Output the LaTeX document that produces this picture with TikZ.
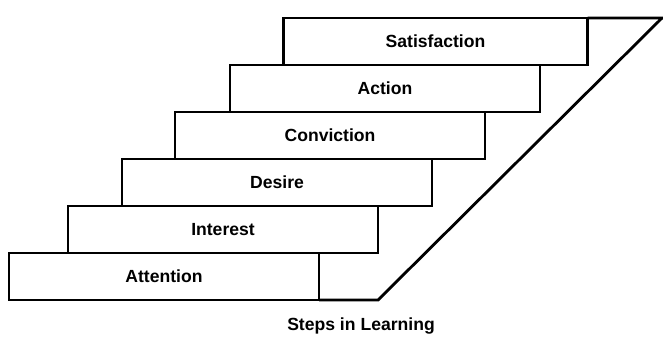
\documentclass[tikz,border=0pt]{standalone}
\usepackage{fontspec}
\setmainfont{Liberation Sans}
\usetikzlibrary{positioning}
\tikzset{
    stepbox/.style={draw,line width=2pt,minimum width=7.75cm,minimum height=1.175cm,
        inner sep=0pt,outer sep=0pt,font=\fontsize{12.5}{14}\selectfont\bfseries},
    outline/.style={draw,line width=2pt,line join=miter},
}
\begin{document}
\begin{tikzpicture}[x=0.025cm,y=-0.025cm]
    \useasboundingbox (0,0) rectangle (663,345);
    \node[stepbox] (att) at (164,276.5) {Attention};
    \node[stepbox] (int) at (223,229.5) {Interest};
    \node[stepbox] (des) at (277,182.5) {Desire};
    \node[stepbox] (conv) at (330,135.5) {Conviction};
    \node[stepbox] (act) at (385,88.5) {Action};
    \node[stepbox,minimum width=7.6cm] (sat) at (435.5,41.5) {Satisfaction};
    \coordinate (foot) at (378,300);
    \coordinate (head) at (662,18);
    \draw[outline] (att.south east) -- (foot) -- (head) -- (sat.north east);
    \node[font=\fontsize{12.5}{14}\selectfont\bfseries] (cap) at (361,326) {Steps in Learning};
\end{tikzpicture}
\end{document}
